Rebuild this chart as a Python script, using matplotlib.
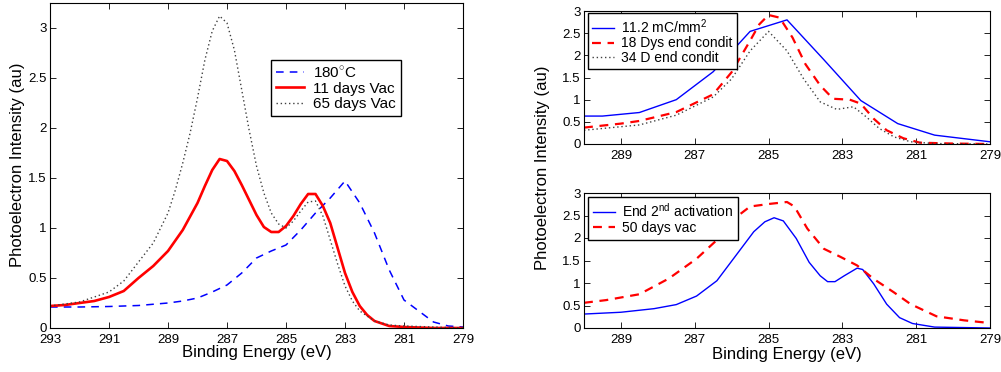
import matplotlib
matplotlib.use("Agg")
import matplotlib.pyplot as plt

plt.rcParams['font.family'] = ['Liberation Sans', 'DejaVu Sans']
plt.rcParams['mathtext.fontset'] = 'custom'
plt.rcParams['mathtext.rm'] = 'Liberation Sans'

# ---- Left panel data ----
e_180 = [293.0, 292.0, 291.0, 290.0, 289.0, 288.5, 288.0, 287.5, 287.0, 286.5, 286.0, 285.5,
         285.0, 284.5, 284.0, 283.5, 283.0, 282.5, 282.0, 281.5, 281.0, 280.5, 280.0, 279.5, 279.0]
v_180 = [0.21, 0.21, 0.215, 0.225, 0.25, 0.27, 0.30, 0.36, 0.43, 0.55, 0.70, 0.77,
         0.83, 0.98, 1.15, 1.30, 1.47, 1.25, 0.95, 0.58, 0.28, 0.17, 0.06, 0.02, 0.01]

e_11 = [293.0, 292.5, 292.0, 291.5, 291.0, 290.5, 290.0, 289.5, 289.0, 288.5, 288.0, 287.75,
        287.5, 287.25, 287.0, 286.75, 286.5, 286.25, 286.0, 285.75, 285.5, 285.25, 285.0,
        284.75, 284.5, 284.25, 284.0, 283.75, 283.5, 283.25, 283.0, 282.75, 282.5, 282.25,
        282.0, 281.5, 281.0, 280.0, 279.0]
v_11 = [0.22, 0.23, 0.25, 0.27, 0.31, 0.37, 0.50, 0.62, 0.77, 0.98, 1.25, 1.42,
        1.58, 1.69, 1.67, 1.57, 1.43, 1.28, 1.13, 1.01, 0.96, 0.96, 1.02,
        1.12, 1.24, 1.34, 1.34, 1.22, 1.05, 0.80, 0.55, 0.36, 0.22, 0.13,
        0.07, 0.02, 0.01, 0.0, 0.0]

e_65 = [293.0, 292.0, 291.0, 290.5, 290.0, 289.5, 289.0, 288.75, 288.5, 288.25, 288.0, 287.75,
        287.5, 287.25, 287.0, 286.75, 286.5, 286.25, 286.0, 285.75, 285.5, 285.25, 285.0,
        284.75, 284.5, 284.25, 284.0, 283.75, 283.5, 283.25, 283.0, 282.75, 282.5, 282.0,
        281.5, 281.0, 280.0, 279.0]
v_65 = [0.22, 0.26, 0.36, 0.47, 0.66, 0.85, 1.15, 1.38, 1.65, 1.95, 2.30, 2.68,
        2.97, 3.12, 3.05, 2.78, 2.38, 1.98, 1.62, 1.35, 1.15, 1.04, 1.00,
        1.07, 1.17, 1.26, 1.27, 1.12, 0.88, 0.64, 0.42, 0.27, 0.17, 0.07,
        0.03, 0.02, 0.01, 0.0]

# ---- Right top panel data ----
e_112 = [290.0, 289.5, 288.5, 287.5, 286.5, 285.5, 284.5, 283.5, 282.5, 281.5, 280.5, 279.0]
v_112 = [0.63, 0.63, 0.71, 1.00, 1.63, 2.54, 2.80, 1.90, 0.98, 0.46, 0.20, 0.05]

e_18 = [290.0, 289.0, 288.5, 287.5, 286.5, 286.0, 285.5, 285.25, 285.0, 284.7, 284.35, 284.0,
        283.6, 283.25, 282.8, 282.5, 282.15, 281.8, 281.35, 280.9, 280.0, 279.0]
v_18 = [0.37, 0.46, 0.52, 0.72, 1.12, 1.62, 2.33, 2.70, 2.91, 2.85, 2.40, 1.80,
        1.32, 1.02, 1.00, 0.91, 0.57, 0.31, 0.13, 0.03, 0.01, 0.0]

e_34 = [290.0, 289.5, 288.5, 287.5, 286.5, 286.0, 285.5, 285.0, 284.5, 284.05, 283.6, 283.15,
        282.7, 282.35, 282.0, 281.6, 281.15, 280.5, 279.0]
v_34 = [0.31, 0.35, 0.43, 0.65, 1.06, 1.47, 2.10, 2.54, 2.10, 1.47, 0.95, 0.78,
        0.84, 0.61, 0.35, 0.16, 0.05, 0.01, 0.0]

# ---- Right bottom panel data ----
e_end2 = [290.0, 289.0, 288.1, 287.5, 286.95, 286.4, 285.95, 285.4, 285.1, 284.85, 284.6, 284.25,
          283.9, 283.6, 283.4, 283.2, 282.95, 282.6, 282.45, 282.15, 281.8, 281.45, 281.1,
          280.5, 279.0]
v_end2 = [0.31, 0.35, 0.43, 0.52, 0.71, 1.05, 1.54, 2.14, 2.36, 2.45, 2.38, 1.99,
          1.46, 1.16, 1.03, 1.03, 1.16, 1.33, 1.30, 0.98, 0.53, 0.23, 0.10,
          0.02, 0.0]

e_50 = [290.0, 289.4, 288.5, 287.7, 286.95, 286.3, 285.85, 285.5, 284.95, 284.5, 284.3, 283.95,
        283.5, 283.05, 282.6, 282.15, 281.6, 281.15, 280.45, 279.7, 279.0]
v_50 = [0.56, 0.62, 0.75, 1.10, 1.54, 2.03, 2.48, 2.70, 2.76, 2.80, 2.70, 2.21,
        1.76, 1.58, 1.39, 1.09, 0.79, 0.53, 0.26, 0.17, 0.11]

left_xticks = [293, 291, 289, 287, 285, 283, 281, 279]
right_xticks = [289, 287, 285, 283, 281, 279]
yticks = [0, 0.5, 1, 1.5, 2, 2.5, 3]
ytick_labels = ['0', '0.5', '1', '1.5', '2', '2.5', '3']

W, H = 1001, 372
fig = plt.figure(figsize=(W / 100, H / 100), dpi=100)


def box(l, t, r, b):
    return [l / W, 1 - b / H, (r - l) / W, (b - t) / H]


def style(ax, xlim, ylim, xt, fs):
    ax.set_xlim(*xlim)
    ax.set_ylim(*ylim)
    ax.set_xticks(xt)
    ax.set_yticks(yticks)
    ax.set_yticklabels(ytick_labels)
    ax.tick_params(direction='in', top=True, right=True, length=4, width=0.6,
                   labelsize=fs)
    ax.tick_params(axis='x', pad=4.5)
    ax.tick_params(axis='y', pad=2.5)
    for s in ax.spines.values():
        s.set_linewidth(0.8)


DOT = (0, (1, 2))

# Left panel
ax1 = fig.add_axes(box(50, 3, 463, 328))
ax1.plot(e_180, v_180, color='blue', ls=(0, (5, 4)), lw=1.1, label=r'180$^{\circ}$C')
ax1.plot(e_11, v_11, color='red', ls='-', lw=1.9, label='11 days Vac')
ax1.plot(e_65, v_65, color='0.25', ls=DOT, lw=1.0, label='65 days Vac')
style(ax1, (293, 279), (0, 3.25), left_xticks, 9.5)
ax1.set_xlabel('Binding Energy (eV)', fontsize=12)
ax1.set_ylabel('Photoelectron Intensity (au)', fontsize=12)
ax1.xaxis.set_label_coords(0.5, -(345 - 328) / 325)
ax1.yaxis.set_label_coords(-(50 - 25) / 413, (328 - 165) / 325)
leg1 = ax1.legend(loc='upper left', bbox_to_anchor=((271 - 50) / 413, (328 - 60) / 325),
                  fontsize=11, frameon=True, fancybox=False, edgecolor='black',
                  framealpha=1, handlelength=1.8, borderpad=0.35, labelspacing=0.08,
                  handletextpad=0.6, borderaxespad=0)
leg1.get_frame().set_linewidth(1.0)

# Right top panel
ax2 = fig.add_axes(box(584, 11, 990, 144))
ax2.plot(e_112, v_112, color='blue', ls='-', lw=1.0, label=r'11.2 mC/mm$^2$')
ax2.plot(e_18, v_18, color='red', ls=(0, (4, 3)), lw=1.6, label='18 Dys end condit')
ax2.plot(e_34, v_34, color='0.25', ls=DOT, lw=1.0, label='34 D end condit')
style(ax2, (290, 279), (0, 3), right_xticks, 9.5)
leg2 = ax2.legend(loc='upper left', bbox_to_anchor=(4 / 406, 1 - 2 / 133),
                  fontsize=10, frameon=True, fancybox=False, edgecolor='black',
                  framealpha=1, handlelength=1.6, borderpad=0.3, labelspacing=0.05,
                  handletextpad=0.5, borderaxespad=0)
leg2.get_frame().set_linewidth(1.0)

# Right bottom panel
ax3 = fig.add_axes(box(584, 193, 990, 328))
ax3.plot(e_end2, v_end2, color='blue', ls='-', lw=1.0, label=r'End 2$^{\mathrm{nd}}$ activation')
ax3.plot(e_50, v_50, color='red', ls=(0, (4, 3)), lw=1.6, label='50 days vac')
style(ax3, (290, 279), (0, 3), right_xticks, 9.5)
ax3.set_xlabel('Binding Energy (eV)', fontsize=12)
ax3.xaxis.set_label_coords(0.5, -(347 - 328) / 135)
leg3 = ax3.legend(loc='upper left', bbox_to_anchor=(4 / 406, 1 - 4 / 135),
                  fontsize=10, frameon=True, fancybox=False, edgecolor='black',
                  framealpha=1, handlelength=1.6, borderpad=0.35, labelspacing=0.1,
                  handletextpad=0.5, borderaxespad=0)
leg3.get_frame().set_linewidth(1.0)

fig.text(543 / W, 1 - 168 / H, 'Photoelectron Intensity (au)', rotation=90,
         ha='center', va='center', fontsize=12)

fig.savefig('out.png', dpi=100)
